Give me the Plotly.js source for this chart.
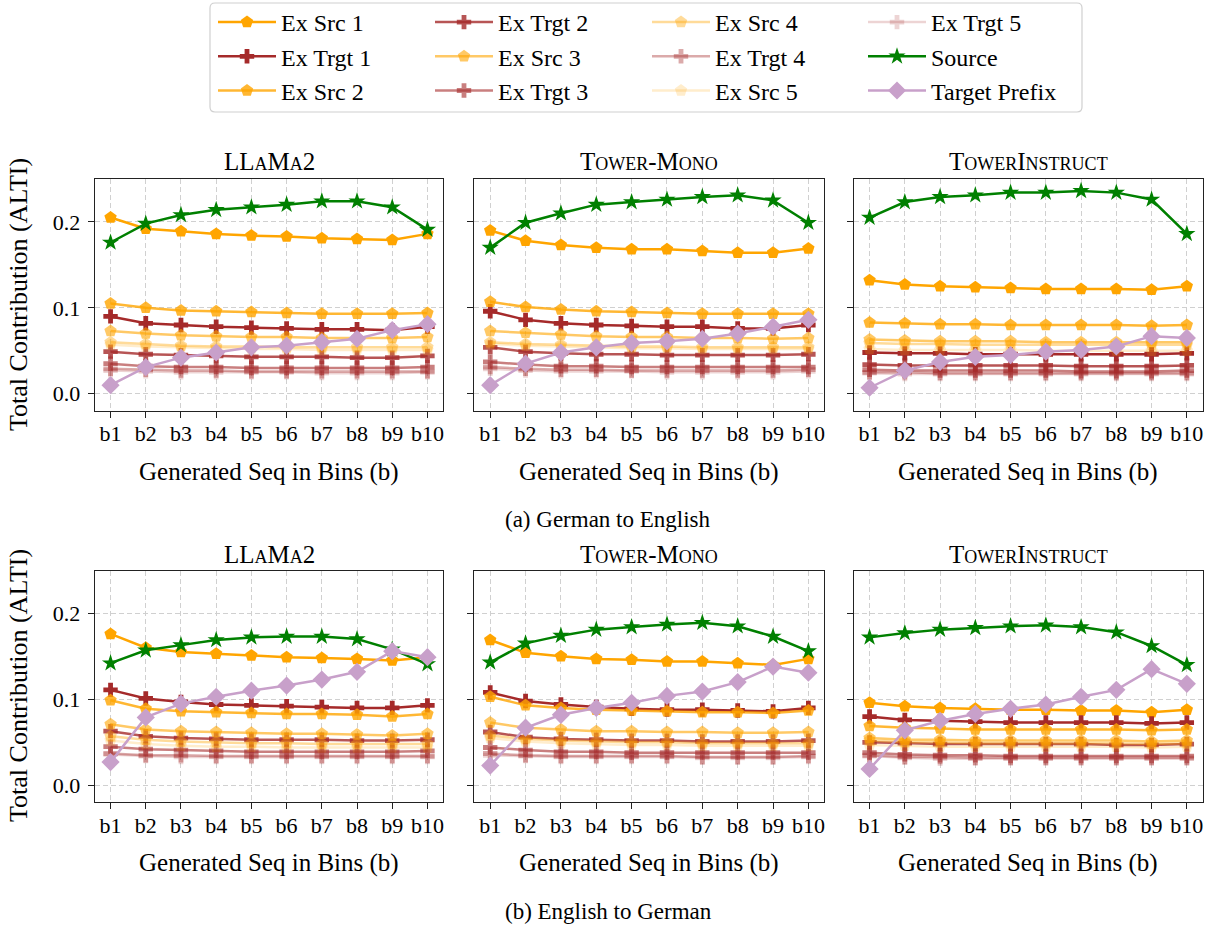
<!DOCTYPE html>
<html>
<head>
<meta charset="utf-8">
<script src="https://cdn.plot.ly/plotly-3.0.1.min.js"></script>
<style>html,body{margin:0;padding:0;background:#fff;}#chart{width:1216px;height:929px;}</style>
</head>
<body>
<div id="chart"></div>
<script>
// ---------- data ----------
const bins = ["b1","b2","b3","b4","b5","b6","b7","b8","b9","b10"];
const seriesNames = ["Ex Src 1","Ex Trgt 1","Ex Src 2","Ex Trgt 2","Ex Src 3","Ex Trgt 3",
                     "Ex Src 4","Ex Trgt 4","Ex Src 5","Ex Trgt 5","Source","Target Prefix"];
const panelTitles = [
  'LL<span style="font-size:18px">A</span>M<span style="font-size:18px">A</span>2',
  'T<span style="font-size:18px">OWER</span>-M<span style="font-size:18px">ONO</span>',
  'T<span style="font-size:18px">OWER</span>I<span style="font-size:18px">NSTRUCT</span>'
];
const captions = ["(a) German to English", "(b) English to German"];
const yTickVals = [0, 0.1, 0.2];
const yTickText = ["0.0", "0.1", "0.2"];

// rows follow seriesNames order
const llamaDeEn = [
  [0.205,0.192,0.189,0.186,0.184,0.183,0.181,0.180,0.179,0.186],
  [0.090,0.082,0.080,0.078,0.077,0.076,0.075,0.075,0.074,0.078],
  [0.105,0.100,0.097,0.096,0.095,0.094,0.093,0.093,0.093,0.094],
  [0.049,0.046,0.045,0.044,0.043,0.043,0.043,0.042,0.042,0.044],
  [0.073,0.070,0.068,0.067,0.066,0.066,0.065,0.065,0.065,0.066],
  [0.035,0.032,0.031,0.031,0.030,0.030,0.030,0.030,0.030,0.031],
  [0.060,0.058,0.056,0.055,0.055,0.054,0.054,0.054,0.054,0.054],
  [0.029,0.028,0.027,0.027,0.026,0.026,0.026,0.026,0.026,0.026],
  [0.057,0.055,0.054,0.053,0.052,0.052,0.051,0.051,0.051,0.051],
  [0.027,0.026,0.025,0.025,0.025,0.025,0.024,0.024,0.024,0.025],
  [0.176,0.198,0.208,0.214,0.217,0.220,0.224,0.224,0.217,0.191],
  [0.010,0.031,0.042,0.048,0.054,0.056,0.060,0.064,0.074,0.081]
];
const monoDeEn = [
  [0.190,0.178,0.173,0.170,0.168,0.168,0.166,0.164,0.164,0.169],
  [0.096,0.086,0.082,0.080,0.079,0.078,0.078,0.076,0.076,0.080],
  [0.107,0.101,0.098,0.096,0.095,0.094,0.093,0.093,0.093,0.093],
  [0.054,0.049,0.047,0.046,0.046,0.045,0.045,0.045,0.045,0.046],
  [0.073,0.071,0.069,0.067,0.066,0.066,0.065,0.065,0.064,0.065],
  [0.037,0.034,0.032,0.032,0.031,0.031,0.031,0.031,0.031,0.031],
  [0.060,0.058,0.057,0.056,0.055,0.055,0.054,0.054,0.054,0.054],
  [0.031,0.029,0.028,0.028,0.027,0.027,0.027,0.027,0.027,0.028],
  [0.058,0.056,0.055,0.054,0.053,0.053,0.052,0.052,0.052,0.052],
  [0.029,0.027,0.026,0.026,0.026,0.025,0.025,0.025,0.025,0.026],
  [0.170,0.199,0.210,0.220,0.223,0.226,0.229,0.231,0.225,0.199],
  [0.010,0.035,0.048,0.054,0.059,0.061,0.064,0.070,0.078,0.086]
];
const instructDeEn = [
  [0.132,0.127,0.125,0.124,0.123,0.122,0.122,0.122,0.121,0.125],
  [0.048,0.047,0.047,0.046,0.046,0.046,0.046,0.046,0.046,0.047],
  [0.083,0.082,0.081,0.081,0.080,0.080,0.080,0.080,0.079,0.080],
  [0.034,0.033,0.033,0.033,0.033,0.033,0.032,0.032,0.032,0.033],
  [0.063,0.062,0.061,0.061,0.061,0.060,0.060,0.060,0.060,0.060],
  [0.028,0.027,0.027,0.027,0.027,0.027,0.026,0.026,0.026,0.027],
  [0.059,0.058,0.058,0.057,0.057,0.057,0.057,0.057,0.057,0.057],
  [0.025,0.025,0.024,0.024,0.024,0.024,0.024,0.024,0.024,0.024],
  [0.052,0.051,0.051,0.051,0.051,0.050,0.050,0.050,0.050,0.050],
  [0.024,0.023,0.023,0.023,0.023,0.023,0.023,0.023,0.023,0.023],
  [0.205,0.223,0.229,0.231,0.234,0.234,0.236,0.234,0.226,0.186],
  [0.007,0.027,0.037,0.043,0.045,0.049,0.051,0.055,0.067,0.065]
];
const llamaEnDe = [
  [0.176,0.160,0.155,0.153,0.151,0.149,0.148,0.147,0.145,0.149],
  [0.111,0.101,0.097,0.094,0.093,0.092,0.091,0.090,0.090,0.093],
  [0.099,0.089,0.086,0.085,0.084,0.083,0.083,0.082,0.080,0.083],
  [0.063,0.057,0.055,0.054,0.053,0.053,0.053,0.052,0.052,0.053],
  [0.071,0.065,0.063,0.062,0.061,0.060,0.060,0.059,0.058,0.060],
  [0.045,0.042,0.041,0.040,0.039,0.039,0.039,0.039,0.039,0.040],
  [0.057,0.053,0.051,0.050,0.049,0.049,0.048,0.048,0.048,0.048],
  [0.037,0.035,0.035,0.034,0.034,0.034,0.034,0.034,0.034,0.034],
  [0.052,0.048,0.046,0.045,0.045,0.044,0.044,0.044,0.044,0.044],
  [0.036,0.034,0.033,0.033,0.033,0.033,0.033,0.033,0.033,0.033],
  [0.142,0.157,0.163,0.169,0.172,0.173,0.173,0.170,0.158,0.141],
  [0.027,0.079,0.095,0.103,0.110,0.116,0.123,0.132,0.156,0.149]
];
const monoEnDe = [
  [0.169,0.154,0.150,0.147,0.146,0.144,0.144,0.142,0.140,0.147],
  [0.108,0.098,0.094,0.091,0.089,0.088,0.088,0.087,0.086,0.090],
  [0.103,0.093,0.090,0.088,0.087,0.086,0.085,0.085,0.084,0.087],
  [0.062,0.056,0.054,0.053,0.052,0.052,0.051,0.051,0.051,0.052],
  [0.073,0.067,0.065,0.063,0.063,0.062,0.062,0.061,0.061,0.062],
  [0.044,0.041,0.039,0.039,0.038,0.038,0.038,0.038,0.038,0.038],
  [0.058,0.054,0.052,0.051,0.050,0.050,0.049,0.049,0.049,0.049],
  [0.037,0.035,0.034,0.034,0.034,0.034,0.033,0.033,0.033,0.034],
  [0.055,0.051,0.049,0.048,0.047,0.047,0.046,0.046,0.046,0.046],
  [0.035,0.034,0.033,0.033,0.033,0.033,0.032,0.032,0.032,0.033],
  [0.143,0.165,0.174,0.181,0.184,0.187,0.189,0.185,0.173,0.156],
  [0.023,0.067,0.082,0.090,0.096,0.104,0.109,0.120,0.138,0.131]
];
const instructEnDe = [
  [0.096,0.092,0.090,0.089,0.088,0.088,0.087,0.087,0.085,0.088],
  [0.080,0.076,0.075,0.074,0.073,0.073,0.073,0.073,0.072,0.073],
  [0.069,0.067,0.066,0.065,0.065,0.065,0.065,0.065,0.064,0.065],
  [0.050,0.049,0.048,0.048,0.048,0.048,0.048,0.047,0.047,0.048],
  [0.055,0.053,0.053,0.052,0.052,0.052,0.052,0.052,0.051,0.052],
  [0.038,0.036,0.035,0.035,0.034,0.034,0.034,0.034,0.034,0.034],
  [0.052,0.050,0.050,0.049,0.049,0.049,0.049,0.049,0.048,0.049],
  [0.035,0.033,0.033,0.032,0.032,0.032,0.032,0.032,0.032,0.032],
  [0.047,0.046,0.045,0.045,0.045,0.045,0.045,0.045,0.044,0.045],
  [0.034,0.032,0.031,0.031,0.031,0.031,0.031,0.031,0.031,0.031],
  [0.172,0.177,0.181,0.183,0.185,0.186,0.184,0.178,0.162,0.140],
  [0.019,0.064,0.075,0.083,0.089,0.094,0.103,0.111,0.135,0.118]
];
const panels = [llamaDeEn, monoDeEn, instructDeEn, llamaEnDe, monoEnDe, instructEnDe];

// ---------- styling ----------
const W = 1216, H = 929;
const FONT = "Liberation Serif, 'DejaVu Serif', serif";
const px = v => v / W;
const py = v => 1 - v / H;
const colX = [[94.7, 443.3], [474.3, 824.3], [853.7, 1202.7]];
const rowY = [[179.3, 410.7], [570.7, 802.3]];

function rgba(rgb, a) { return `rgba(${rgb[0]},${rgb[1]},${rgb[2]},${a})`; }
const ORANGE = [255,165,0], BROWN = [165,42,42];
const alphas = [1, 0.8, 0.6, 0.4, 0.2];
function styleFor(i) {
  if (i < 10) {
    const k = Math.floor(i / 2);
    const isSrc = i % 2 === 0;
    const c = rgba(isSrc ? ORANGE : BROWN, alphas[k]);
    return {color: c, symbol: isSrc ? "pentagon" : "cross", size: isSrc ? 13 : 12};
  }
  if (i === 10) return {color: "#008000", symbol: "star", size: 13};
  return {color: "#C8A0CA", symbol: "diamond", size: 14};
}

const traces = [];
panels.forEach((data, p) => {
  const ax = p === 0 ? "" : String(p + 1);
  data.forEach((vals, s) => {
    const st = styleFor(s);
    traces.push({
      type: "scatter", mode: "lines+markers",
      x: bins, y: vals, name: seriesNames[s],
      xaxis: "x" + ax, yaxis: "y" + ax,
      line: {color: st.color, width: 2.5},
      marker: {color: st.color, symbol: st.symbol, size: st.size, line: {width: 0}},
      legendgroup: seriesNames[s],
      showlegend: p === 0,
      legend: Math.floor(s / 3) === 0 ? "legend" : "legend" + (Math.floor(s / 3) + 1),
      hoverinfo: "x+y+name"
    });
  });
});

const layout = {
  width: W, height: H,
  margin: {l: 0, r: 0, t: 0, b: 0},
  paper_bgcolor: "#fff", plot_bgcolor: "#fff",
  font: {family: FONT, size: 22, color: "#000"},
  showlegend: true,
  annotations: [], shapes: []
};

for (let p = 0; p < 6; p++) {
  const ax = p === 0 ? "" : String(p + 1);
  const c = p % 3, r = Math.floor(p / 3);
  layout["xaxis" + ax] = {
    domain: [px(colX[c][0]), px(colX[c][1])],
    anchor: "y" + ax,
    type: "category", range: [-0.45, 9.45],
    showgrid: true, gridcolor: "#d0d0d0", griddash: "5px,3px", gridwidth: 1,
    showline: true, mirror: true, linecolor: "#222", linewidth: 1.3,
    ticks: "outside", ticklen: 6, tickwidth: 1.2, tickcolor: "#222",
    tickfont: {family: FONT, size: 22, color: "#000"},
    ticklabelstandoff: -3,
    zeroline: false, fixedrange: true
  };
  layout["yaxis" + ax] = {
    domain: [py(rowY[r][1]), py(rowY[r][0])],
    anchor: "x" + ax,
    range: [-0.0197, 0.2495],
    tickmode: "array", tickvals: yTickVals, ticktext: yTickText,
    showticklabels: c === 0,
    showgrid: true, gridcolor: "#d0d0d0", griddash: "5px,3px", gridwidth: 1,
    showline: true, mirror: true, linecolor: "#222", linewidth: 1.3,
    ticks: "outside", ticklen: 6, tickwidth: 1.2, tickcolor: "#222",
    tickfont: {family: FONT, size: 22, color: "#000"},
    ticklabelstandoff: 3,
    zeroline: false, fixedrange: true
  };
  // subplot title
  layout.annotations.push({
    xref: "paper", yref: "paper",
    x: px((colX[c][0] + colX[c][1]) / 2), y: py(r === 0 ? 162 : 554),
    xanchor: "center", yanchor: "middle", showarrow: false,
    text: panelTitles[c], font: {family: FONT, size: 25, color: "#000"}
  });
  // x axis title
  layout.annotations.push({
    xref: "paper", yref: "paper",
    x: px((colX[c][0] + colX[c][1]) / 2), y: py(r === 0 ? 472 : 863),
    xanchor: "center", yanchor: "middle", showarrow: false,
    text: "Generated Seq in Bins (b)", font: {family: FONT, size: 25, color: "#000"}
  });
}
// y axis titles
[295, 686].forEach(yc => {
  layout.annotations.push({
    xref: "paper", yref: "paper", x: px(18), y: py(yc),
    xanchor: "center", yanchor: "middle", showarrow: false, textangle: -90,
    text: "Total Contribution (ALTI)", font: {family: FONT, size: 26, color: "#000"}
  });
});
// captions
[[519, captions[0]], [911, captions[1]]].forEach(([yc, t]) => {
  layout.annotations.push({
    xref: "paper", yref: "paper", x: px(608), y: py(yc),
    xanchor: "center", yanchor: "middle", showarrow: false,
    text: t, font: {family: FONT, size: 23, color: "#000"}
  });
});

// legend frame (rounded)
(function () {
  const x0 = 210, x1 = 1082, y0 = 3, y1 = 112, rr = 5;
  const P = (x, y) => `${px(x)},${py(y)}`;
  const path = `M${P(x0 + rr, y0)} L${P(x1 - rr, y0)} Q${P(x1, y0)} ${P(x1, y0 + rr)} ` +
    `L${P(x1, y1 - rr)} Q${P(x1, y1)} ${P(x1 - rr, y1)} L${P(x0 + rr, y1)} ` +
    `Q${P(x0, y1)} ${P(x0, y1 - rr)} L${P(x0, y0 + rr)} Q${P(x0, y0)} ${P(x0 + rr, y0)} Z`;
  layout.shapes.push({type: "path", xref: "paper", yref: "paper", path: path,
    fillcolor: "rgba(255,255,255,0.8)", line: {color: "#d0d0d0", width: 1.2}, layer: "above"});
})();

const legendCols = [213, 430, 647, 863];
legendCols.forEach((lx, i) => {
  const key = i === 0 ? "legend" : "legend" + (i + 1);
  layout[key] = {
    x: px(lx), y: py(0), xanchor: "left", yanchor: "top",
    orientation: "v", bgcolor: "rgba(0,0,0,0)", borderwidth: 0,
    font: {family: FONT, size: 24, color: "#000"},
    itemwidth: 58, tracegroupgap: 0, itemclick: false, itemdoubleclick: false
  };
});

Plotly.newPlot("chart", traces, layout, {displayModeBar: false, staticPlot: false});
</script>
</body>
</html>
